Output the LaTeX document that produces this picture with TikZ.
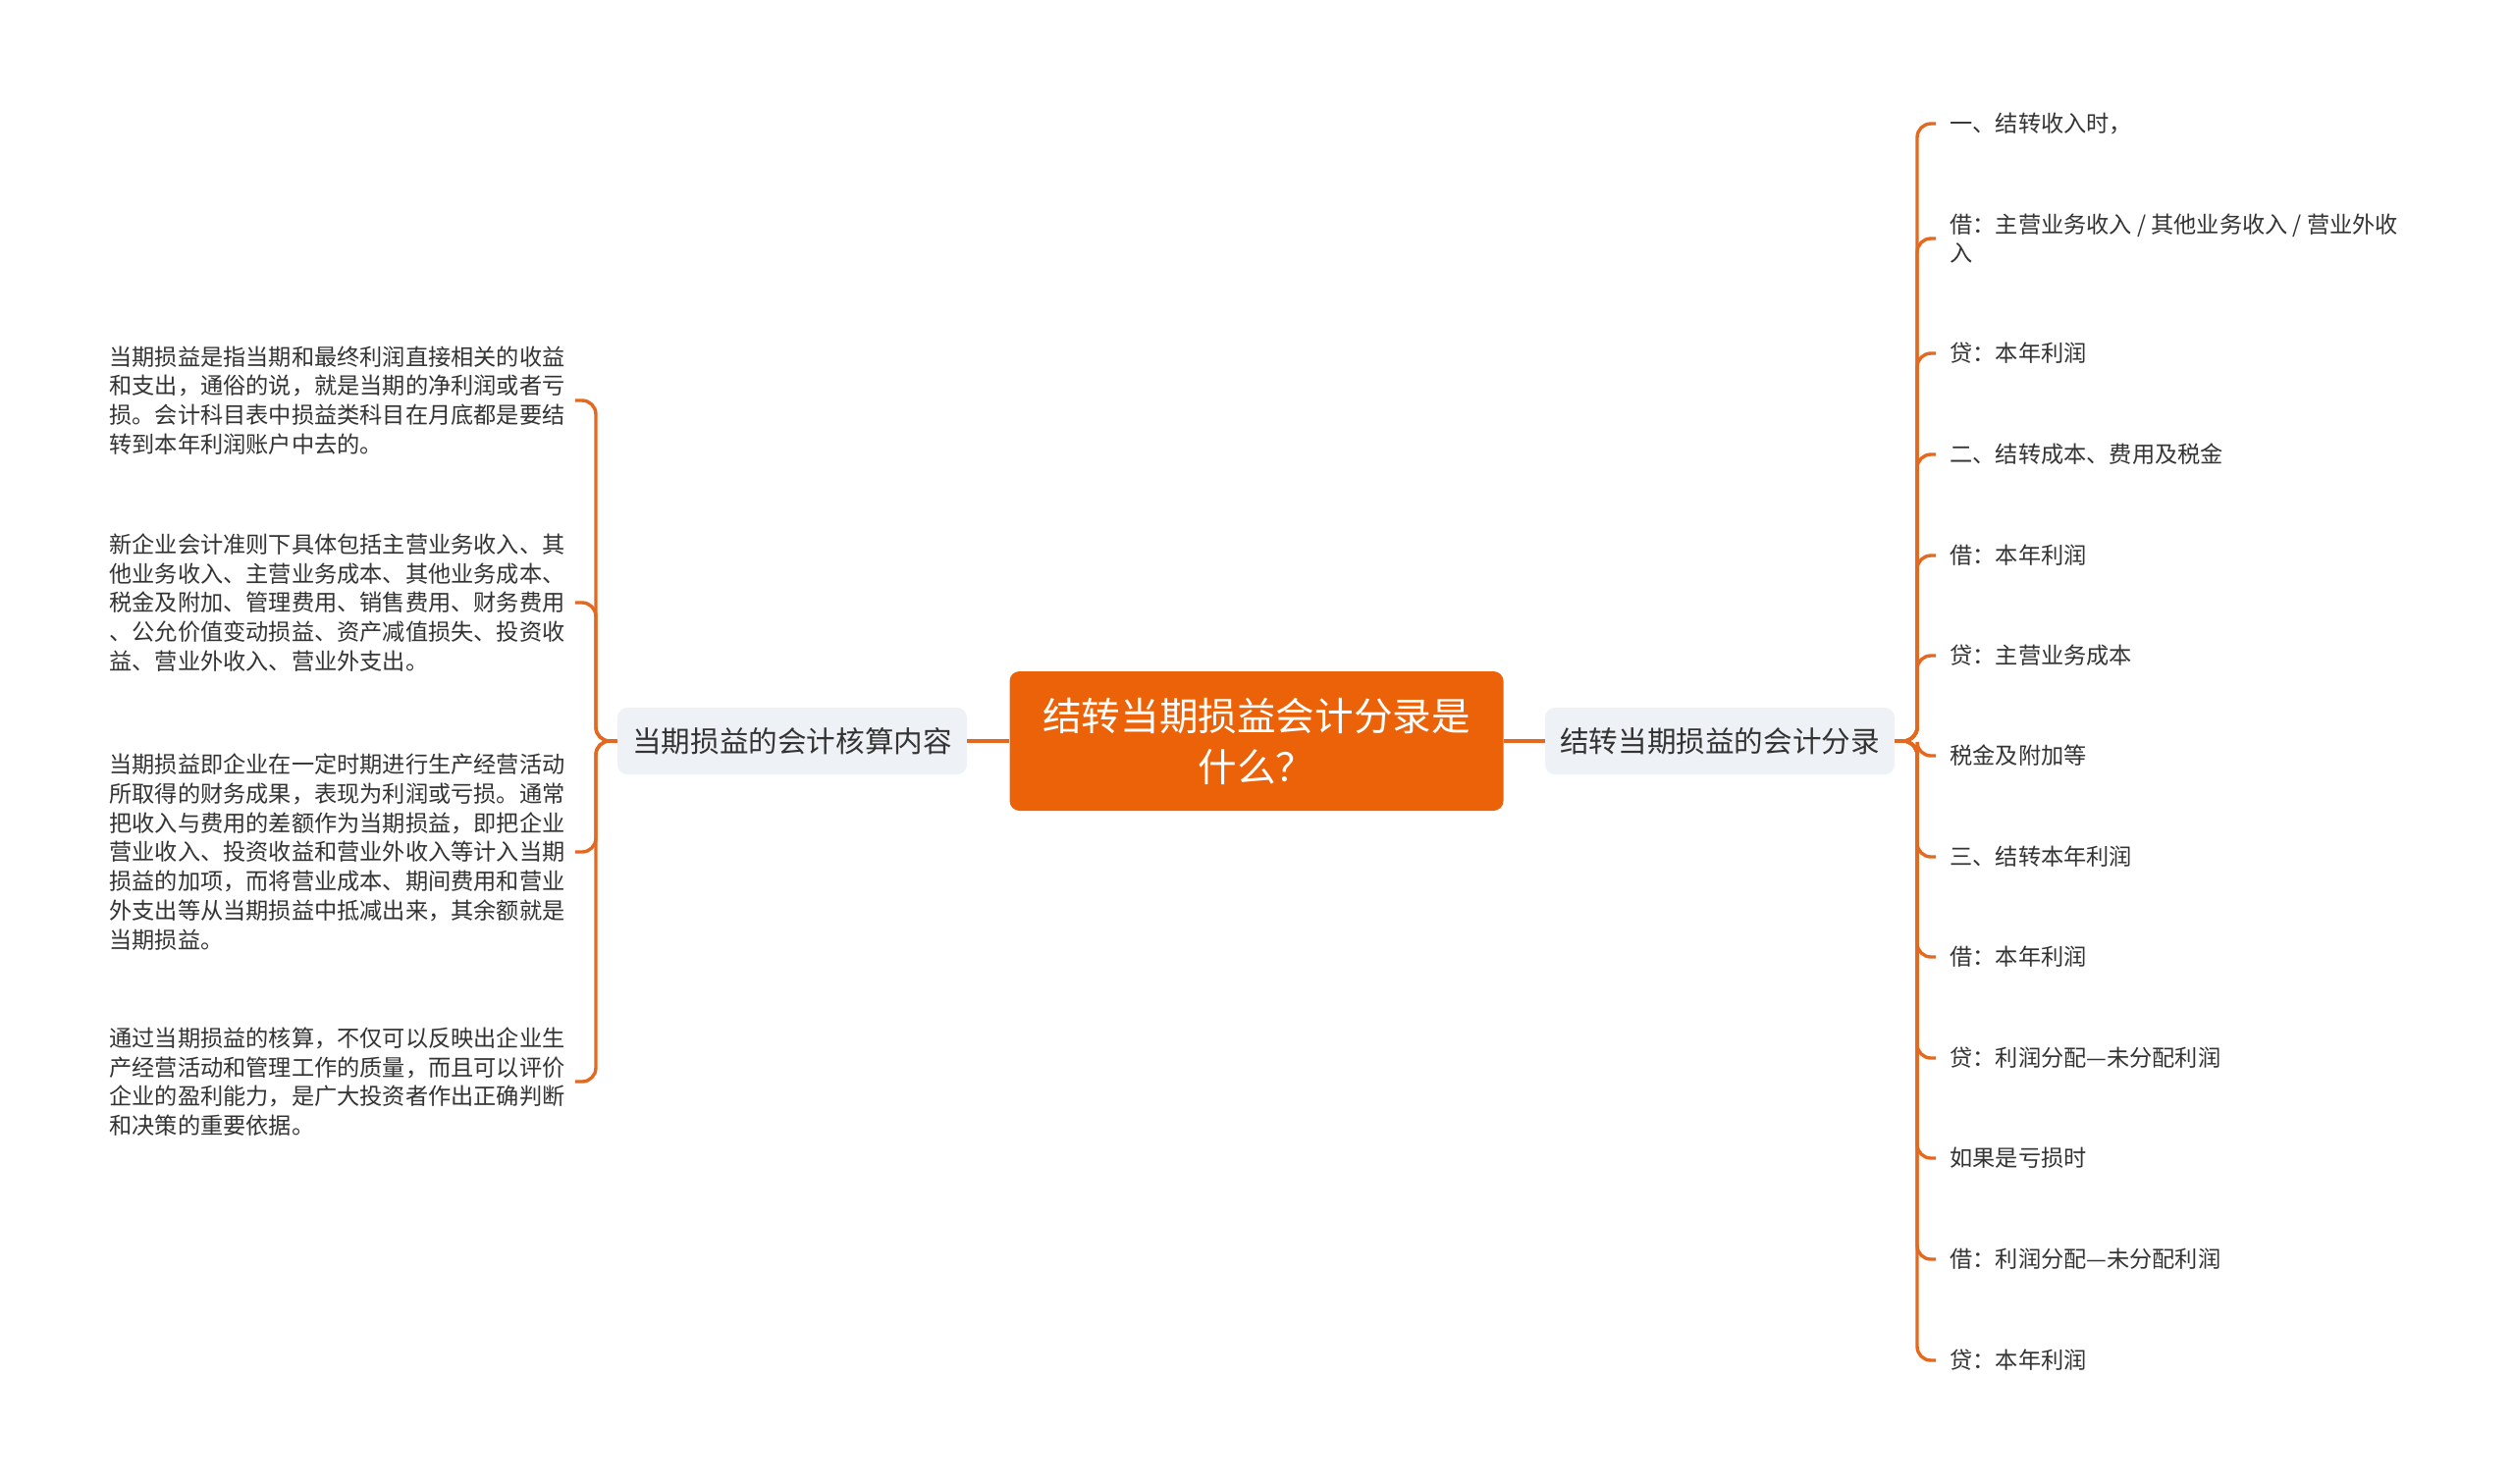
\documentclass[tikz,border=0pt]{standalone}
\usepackage{fontspec}
\setmainfont{Noto Sans CJK SC}
\definecolor{rootorange}{HTML}{EB6209}
\definecolor{linkorange}{HTML}{E2691F}
\definecolor{branchgray}{HTML}{EEF1F5}
\definecolor{textgray}{HTML}{333333}
\tikzset{
	rootbox/.style={fill=rootorange, rounded corners=5pt, minimum width=251.5pt, minimum height=71pt, inner sep=0pt, text=white, align=center, font=\fontsize{19.8}{26}\selectfont},
	branchbox/.style={fill=branchgray, rounded corners=5pt, minimum width=178pt, minimum height=34pt, inner sep=0pt, text=textgray, font=\fontsize{14.8}{18}\selectfont},
	lefttext/.style={anchor=west, inner sep=0pt, align=left, text=textgray, font=\fontsize{11.6}{14.9}\selectfont},
	righttext/.style={anchor=west, inner sep=0pt, align=left, text=textgray, font=\fontsize{11.6}{14.6}\selectfont},
	link/.style={draw=linkorange, line width=1.7pt, rounded corners=7pt}
}

\begin{document}
\begin{tikzpicture}[x=0.5pt, y=-0.5pt]
			%%%%% START %%%%%
			\useasboundingbox (0, 0) rectangle (2560, 1511);
			
			\node[rootbox] (root) at (1280, 755) {结转当期损益会计分录是\\什么？};
			\node[branchbox] (lbranch) at (807, 755) {当期损益的会计核算内容};
			\node[branchbox] (rbranch) at (1752, 755) {结转当期损益的会计分录};
			
			\draw[link] (root.west) -- (lbranch.east);
			\draw[link] (root.east) -- (rbranch.west);
			
			%%%%% LEFT %%%%%
			\coordinate (ljoin) at (607, 755);
			\node[lefttext] (l1) at (111, 408) {当期损益是指当期和最终利润直接相关的收益\\和支出，通俗的说，就是当期的净利润或者亏\\损。会计科目表中损益类科目在月底都是要结\\转到本年利润账户中去的。};
			\node[lefttext] (l2) at (111, 614) {新企业会计准则下具体包括主营业务收入、其\\他业务收入、主营业务成本、其他业务成本、\\税金及附加、管理费用、销售费用、财务费用\\、公允价值变动损益、资产减值损失、投资收\\益、营业外收入、营业外支出。};
			\node[lefttext] (l3) at (111, 868) {当期损益即企业在一定时期进行生产经营活动\\所取得的财务成果，表现为利润或亏损。通常\\把收入与费用的差额作为当期损益，即把企业\\营业收入、投资收益和营业外收入等计入当期\\损益的加项，而将营业成本、期间费用和营业\\外支出等从当期损益中抵减出来，其余额就是\\当期损益。};
			\node[lefttext] (l4) at (111, 1102) {通过当期损益的核算，不仅可以反映出企业生\\产经营活动和管理工作的质量，而且可以评价\\企业的盈利能力，是广大投资者作出正确判断\\和决策的重要依据。};
			
			\draw[link] (lbranch.west) -- (ljoin) |- ([xshift=5pt]l1.east);
			\draw[link] (lbranch.west) -- (ljoin) |- ([xshift=5pt]l2.east);
			\draw[link] (lbranch.west) -- (ljoin) |- ([xshift=5pt]l3.east);
			\draw[link] (lbranch.west) -- (ljoin) |- ([xshift=5pt]l4.east);
			
			%%%%% RIGHT %%%%%
			\coordinate (rjoin) at (1953, 755);
			\node[righttext] (r1) at (1986, 126) {一、结转收入时，};
			\node[righttext] (r2) at (1986, 243) {借：主营业务收入 / 其他业务收入 / 营业外收\\入};
			\node[righttext] (r3) at (1986, 360) {贷：本年利润};
			\node[righttext] (r4) at (1986, 463) {二、结转成本、费用及税金};
			\node[righttext] (r5) at (1986, 566) {借：本年利润};
			\node[righttext] (r6) at (1986, 668) {贷：主营业务成本};
			\node[righttext] (r7) at (1986, 770) {税金及附加等};
			\node[righttext] (r8) at (1986, 873) {三、结转本年利润};
			\node[righttext] (r9) at (1986, 975) {借：本年利润};
			\node[righttext] (r10) at (1986, 1078) {贷：利润分配—未分配利润};
			\node[righttext] (r11) at (1986, 1180) {如果是亏损时};
			\node[righttext] (r12) at (1986, 1283) {借：利润分配—未分配利润};
			\node[righttext] (r13) at (1986, 1386) {贷：本年利润};
			
			\draw[link] (rbranch.east) -- (rjoin) |- ([xshift=-7pt]r1.west);
			\draw[link] (rbranch.east) -- (rjoin) |- ([xshift=-7pt]r2.west);
			\draw[link] (rbranch.east) -- (rjoin) |- ([xshift=-7pt]r3.west);
			\draw[link] (rbranch.east) -- (rjoin) |- ([xshift=-7pt]r4.west);
			\draw[link] (rbranch.east) -- (rjoin) |- ([xshift=-7pt]r5.west);
			\draw[link] (rbranch.east) -- (rjoin) |- ([xshift=-7pt]r6.west);
			\draw[link] (rbranch.east) -- (rjoin) |- ([xshift=-7pt]r7.west);
			\draw[link] (rbranch.east) -- (rjoin) |- ([xshift=-7pt]r8.west);
			\draw[link] (rbranch.east) -- (rjoin) |- ([xshift=-7pt]r9.west);
			\draw[link] (rbranch.east) -- (rjoin) |- ([xshift=-7pt]r10.west);
			\draw[link] (rbranch.east) -- (rjoin) |- ([xshift=-7pt]r11.west);
			\draw[link] (rbranch.east) -- (rjoin) |- ([xshift=-7pt]r12.west);
			\draw[link] (rbranch.east) -- (rjoin) |- ([xshift=-7pt]r13.west);
			
			%%%%% END %%%%%
\end{tikzpicture}
\end{document}
